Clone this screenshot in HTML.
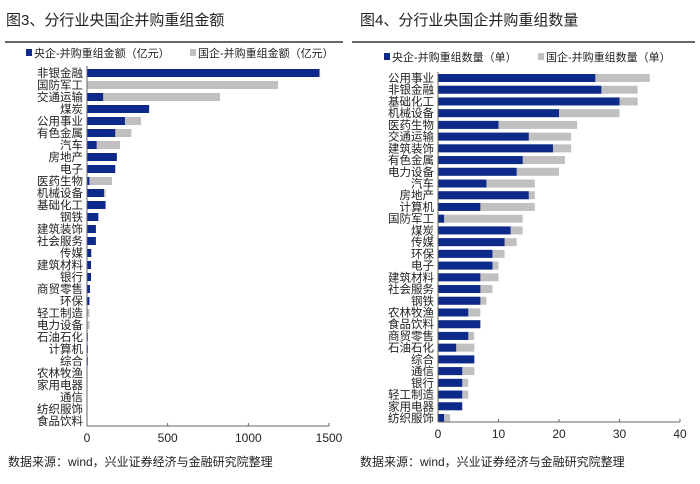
<!DOCTYPE html>
<html><head><meta charset="utf-8"><style>
body{margin:0;width:700px;height:479px;background:#fff;font-family:"Liberation Sans","Noto Sans CJK SC",sans-serif;overflow:hidden}
svg text{font-family:"Liberation Sans","Noto Sans CJK SC",sans-serif}
</style></head><body>
<svg width="700" height="479">
<text x="6" y="25" font-size="15" fill="#222">图3、分行业央国企并购重组金额</text>
<line x1="5" y1="42" x2="343" y2="42" stroke="#666" stroke-width="2"/>
<text x="360" y="25" font-size="15" fill="#222">图4、分行业央国企并购重组数量</text>
<line x1="352" y1="42" x2="695" y2="42" stroke="#666" stroke-width="2"/>
<g>
<rect x="26" y="49" width="6" height="7" fill="#0d2a8a"/><text x="34" y="57" font-size="11" fill="#222">央企-并购重组金额（亿元）</text>
<rect x="190" y="49" width="6" height="7" fill="#c0c0c0"/><text x="198" y="57" font-size="11" fill="#222">国企-并购重组金额（亿元）</text>
</g>
<g>
<rect x="384" y="53" width="6" height="7" fill="#0d2a8a"/><text x="392" y="61" font-size="11" fill="#222">央企-并购重组数量（单）</text>
<rect x="538" y="53" width="6" height="7" fill="#c0c0c0"/><text x="546" y="61" font-size="11" fill="#222">国企-并购重组数量（单）</text>
</g>
<g id="left"></g>
<g id="right"></g>
<text x="8" y="466" font-size="12" fill="#222">数据来源：wind，兴业证券经济与金融研究院整理</text>
<text x="360" y="466" font-size="12" fill="#222">数据来源：wind，兴业证券经济与金融研究院整理</text>
</svg>
<script>
const leftCats=["非银金融","国防军工","交通运输","煤炭","公用事业","有色金属","汽车","房地产","电子","医药生物","机械设备","基础化工","钢铁","建筑装饰","社会服务","传媒","建筑材料","银行","商贸零售","环保","轻工制造","电力设备","石油石化","计算机","综合","农林牧渔","家用电器","通信","纺织服饰","食品饮料"];
const leftCentral=[1440,0,100,385,235,175,60,185,175,15,105,115,70,55,55,25,25,25,18,15,0,2,5,5,5,3,3,1,1,1];
const leftState=[1445,1185,825,385,335,275,205,185,175,155,115,115,70,55,55,30,25,25,18,15,15,15,5,5,5,3,3,1,1,1];
const leftTicks=[0,500,1000,1500];
const rightCats=["公用事业","非银金融","基础化工","机械设备","医药生物","交通运输","建筑装饰","有色金属","电力设备","汽车","房地产","计算机","国防军工","煤炭","传媒","环保","电子","建筑材料","社会服务","钢铁","农林牧渔","食品饮料","商贸零售","石油石化","综合","通信","银行","轻工制造","家用电器","纺织服饰"];
const rightCentral=[26,27,30,20,10,15,19,14,13,8,15,7,1,12,11,9,9,7,7,7,5,7,5,3,6,4,4,4,4,1];
const rightState=[35,33,33,30,23,22,22,21,20,16,16,16,14,14,13,11,10,10,9,8,7,7,6,6,6,6,5,5,4,2];
const rightTicks=[0,10,20,30,40];
const NS="http://www.w3.org/2000/svg";
function mk(g,t,a){const e=document.createElementNS(NS,t);for(const k in a)e.setAttribute(k,a[k]);g.appendChild(e);return e;}
function draw(gid,cats,c,s,ticks,o){
 const g=document.getElementById(gid);
 const xs=v=>o.x0+(v-ticks[0])/(ticks[ticks.length-1]-ticks[0])*(o.x1-o.x0);
 const ys=i=>o.yA+i*(o.yB-o.yA)/(cats.length-1);
 cats.forEach((cat,i)=>{
  const y=ys(i);
  const t=mk(g,"text",{x:o.x0-4,y:y+4,"font-size":11.5,"text-anchor":"end",fill:"#222"});t.textContent=cat;
  
  
  const r1=mk(g,"rect",{x:o.x0,y:y-4,width:Math.max(0,xs(s[i])-o.x0),height:8,fill:"#c0c0c0"});
  
  
  const r2=mk(g,"rect",{x:o.x0,y:y-4,width:Math.max(0,xs(c[i])-o.x0),height:8,fill:"#0d2a8a"});
  
  
 });
 const ax=mk(g,"line",{x1:o.x0,y1:o.yTop,x2:o.x0,y2:o.yAx,stroke:"#666"});
 
 
 const bx=mk(g,"line",{x1:o.x0,y1:o.yAx,x2:o.x1,y2:o.yAx,stroke:"#666"});
 
 
 ticks.forEach(v=>{
  const x=xs(v);
  mk(g,"line",{x1:x,y1:o.yAx,x2:x,y2:o.yAx-3,stroke:"#666"});
  const t=mk(g,"text",{x:x,y:o.yAx+16,"font-size":12,"text-anchor":"middle",fill:"#222"});t.textContent=v;
  
  
 });
}
draw("left",leftCats,leftCentral,leftState,leftTicks,{x0:87,x1:329,yA:73,yB:421,yTop:66,yAx:426});
draw("right",rightCats,rightCentral,rightState,rightTicks,{x0:438,x1:680,yA:78,yB:418,yTop:72,yAx:422});
</script>
</body></html>
